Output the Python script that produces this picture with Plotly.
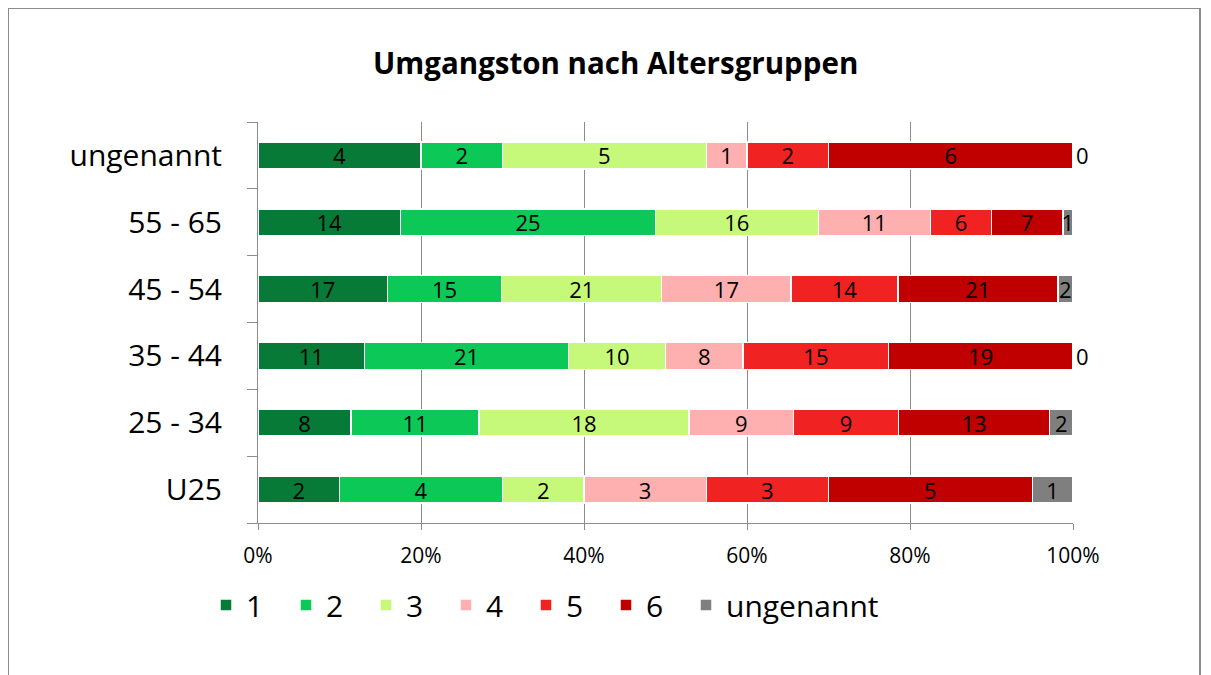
import plotly.graph_objects as go

categories = ["U25", "25 - 34", "35 - 44", "45 - 54", "55 - 65", "ungenannt"]
series_names = ["1", "2", "3", "4", "5", "6", "ungenannt"]
v1 = [2, 8, 11, 17, 14, 4]
v2 = [4, 11, 21, 15, 25, 2]
v3 = [2, 18, 10, 21, 16, 5]
v4 = [3, 9, 8, 17, 11, 1]
v5 = [3, 9, 15, 14, 6, 2]
v6 = [5, 13, 19, 21, 7, 6]
v_ung = [1, 2, 0, 2, 1, 0]
series_values = [v1, v2, v3, v4, v5, v6, v_ung]
colors = ["#067a36", "#0cc957", "#c6f97a", "#feafaf", "#f02222", "#c00000", "#7f7f7f"]
xtick_vals = [0, 20, 40, 60, 80, 100]
xtick_text = ["0%", "20%", "40%", "60%", "80%", "100%"]
title_text = "Umgangston nach Altersgruppen"

OFF = 8  # page body margin
W, H = 1211 - OFF, 675 - OFF
ML, MR, MT, MB = 258 - OFF, 138, 122 - OFF, 152
PW, PH = W - ML - MR, H - MT - MB

FONT = "Open Sans"

fig = go.Figure()
for name, vals, col in zip(series_names, series_values, colors):
    fig.add_trace(go.Bar(
        y=categories, x=vals, name=name, orientation="h",
        marker=dict(color=col, line=dict(color="white", width=1.5)),
        text=[str(v) for v in vals],
        textposition=["outside" if v == 0 else "inside" for v in vals],
        insidetextanchor="middle", textangle=0,
        insidetextfont=dict(color="black", size=22, family=FONT),
        outsidetextfont=dict(color="black", size=22, family=FONT),
        cliponaxis=False,
        legend="legend2" if name == "ungenannt" else "legend",
    ))

def px_x(px):
    # px is page pixel of the reference
    return (px - OFF - ML) / PW

def px_y(py):
    return (H - MB - (py - OFF)) / PH

legend_common = dict(orientation="h", yanchor="middle", xanchor="left",
                     font=dict(size=30, family=FONT), traceorder="normal",
                     itemwidth=30, bgcolor="rgba(0,0,0,0)")

fig.update_layout(
    width=W, height=H,
    barmode="stack", barnorm="percent", bargap=0.6,
    margin=dict(l=ML, r=MR, t=MT, b=MB),
    paper_bgcolor="white", plot_bgcolor="white",
    font=dict(family=FONT, color="black"),
    uniformtext=dict(minsize=22, mode="show"),
    showlegend=True,
    legend=dict(x=px_x(206), y=px_y(605), entrywidth=35, **legend_common),
    legend2=dict(x=px_x(686), y=px_y(605), **legend_common),
    xaxis=dict(range=[0, 100], tickvals=xtick_vals, ticktext=xtick_text,
               showgrid=True, gridcolor="#8c8c8c", gridwidth=1,
               showline=True, linecolor="#8c8c8c", linewidth=1,
               ticks="outside", ticklen=6, tickcolor="#8c8c8c",
               ticklabelstandoff=8,
               tickfont=dict(size=21, family=FONT), zeroline=False),
    yaxis=dict(categoryorder="array", categoryarray=categories,
               showline=True, linecolor="#8c8c8c", linewidth=1,
               ticks="outside", ticklen=10, tickcolor="#8c8c8c", tickson="boundaries",
               tickfont=dict(size=30, family=FONT), ticklabelstandoff=29),
    annotations=[dict(text="<b>" + title_text + "</b>", xref="paper", yref="paper",
                      x=px_x(615), y=px_y(62), xanchor="center", yanchor="middle",
                      showarrow=False, font=dict(size=29.5, family=FONT))],
    shapes=[dict(type="rect", xref="paper", yref="paper",
                 x0=px_x(8), x1=px_x(1200), y0=px_y(700), y1=px_y(8),
                 line=dict(color="#8c8c8c", width=2), fillcolor="rgba(0,0,0,0)", layer="below")],
)

fig.write_html("out.html")
